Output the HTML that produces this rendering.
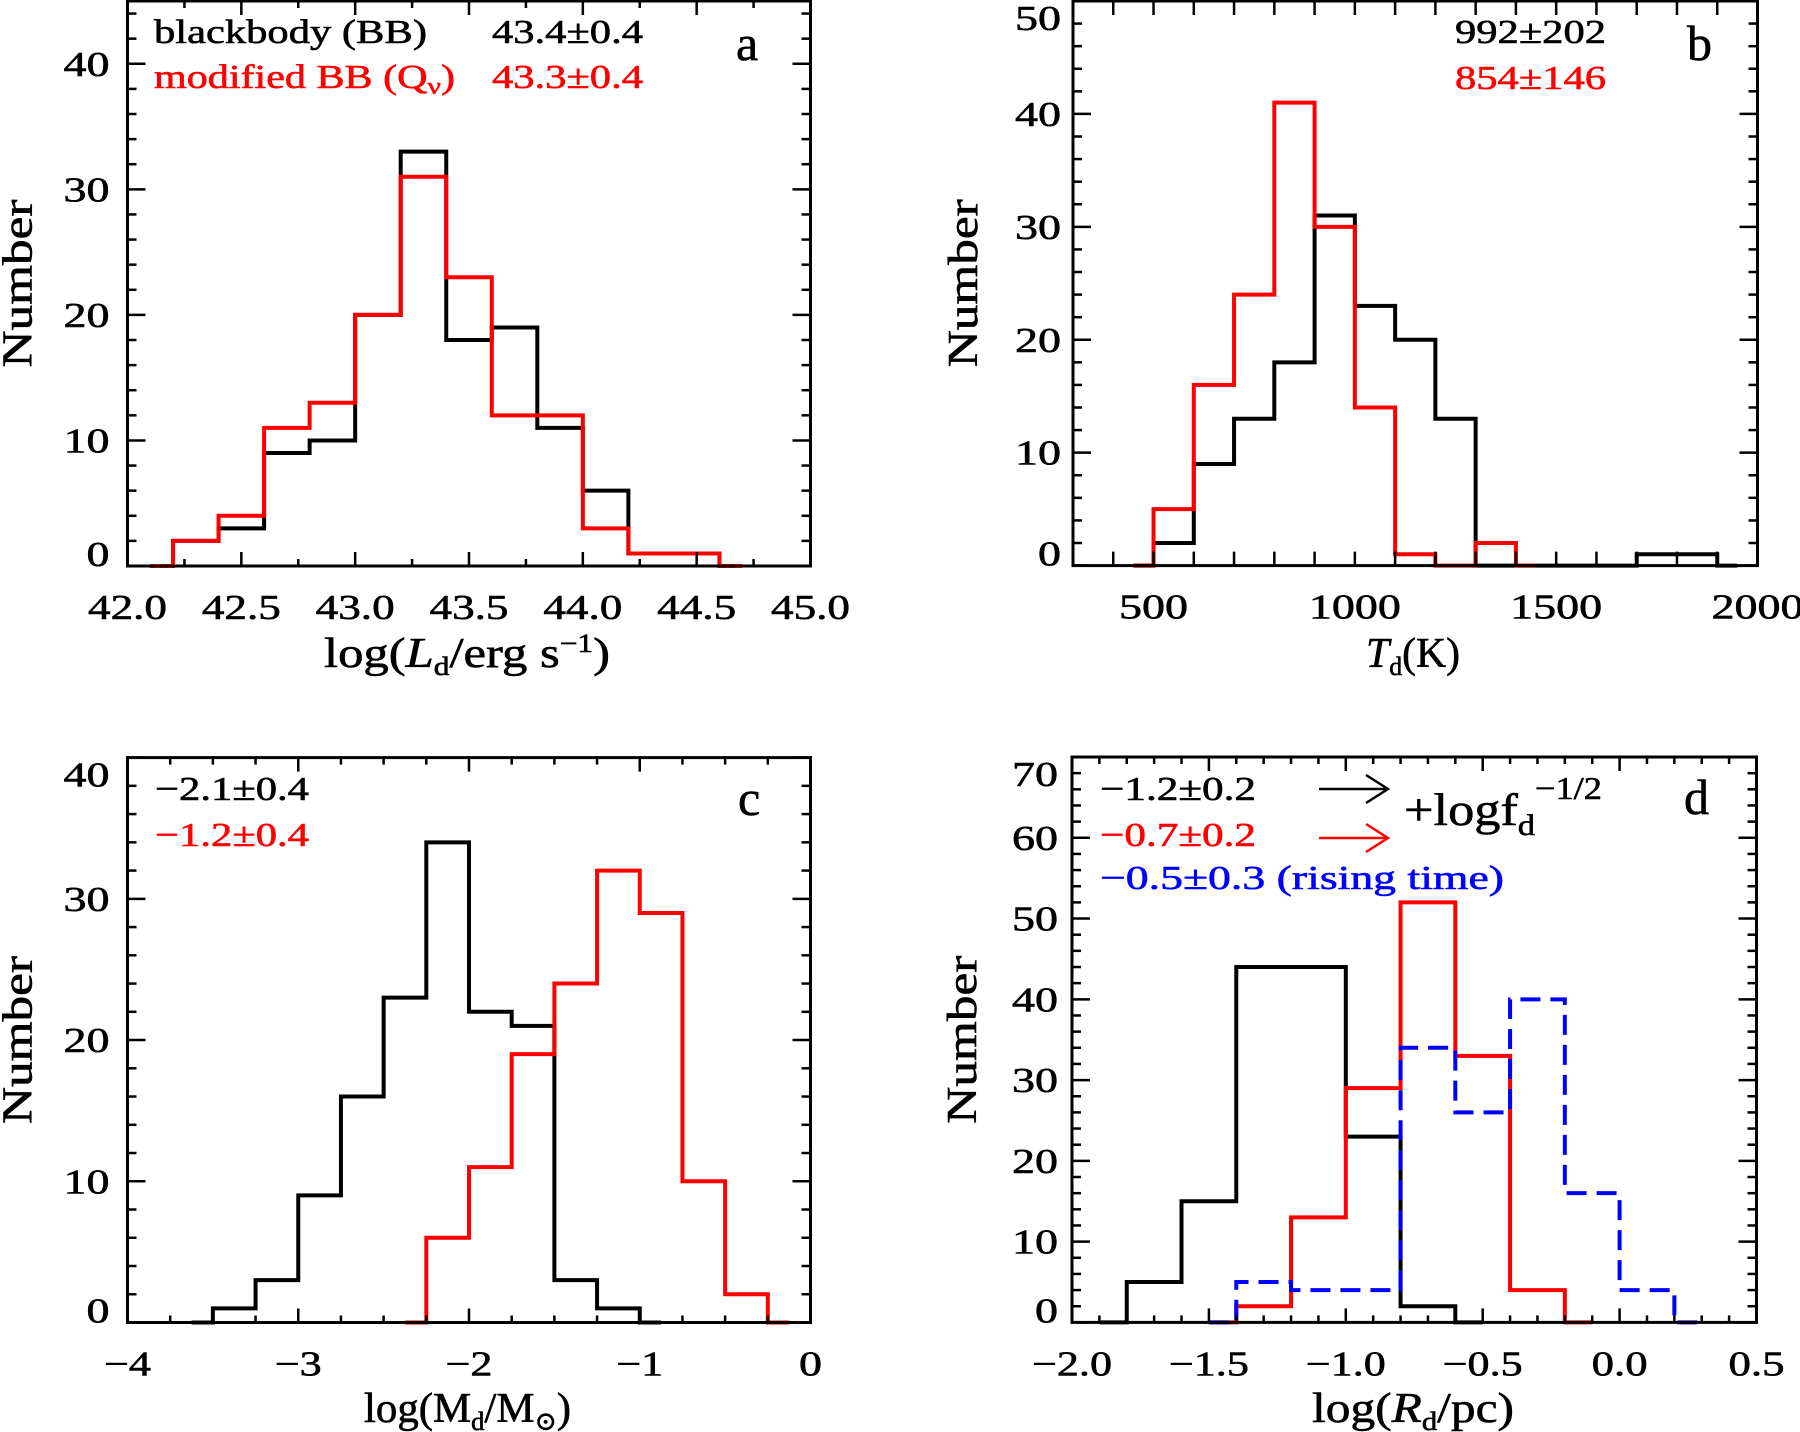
<!DOCTYPE html>
<html><head><meta charset="utf-8">
<style>
html,body{margin:0;padding:0;background:#fff;}
svg{display:block;font-family:"Liberation Serif","DejaVu Serif",serif;}
text{stroke-width:0.6;}
</style></head>
<body>
<svg id="fig" width="1800" height="1432" viewBox="0 0 1800 1432" xmlns="http://www.w3.org/2000/svg"></svg>
<script>
// ---- Panel a: log(Ld) ----
const aCenters = [42.1,42.3,42.5,42.7,42.9,43.1,43.3,43.5,43.7,43.9,44.1,44.3,44.5,44.7];
const aBlack   = [0,2,3,9,10,20,33,18,19,11,6,1,1,0];
const aRed     = [0,2,4,11,13,20,31,23,12,12,3,1,1,0];
const aXTicks  = ["42.0","42.5","43.0","43.5","44.0","44.5","45.0"];
const aYTicks  = ["0","10","20","30","40"];
// ---- Panel b: Td ----
const bCenters = [450,550,650,750,850,950,1050,1150,1250,1350,1450,1550,1650,1750,1850,1950];
const bBlack   = [0,2,9,13,18,31,23,20,13,0,0,0,0,1,1,0];
const bRedCenters = [450,550,650,750,850,950,1050,1150,1250,1350,1450];
const bRed     = [0,5,16,24,41,30,14,1,0,2,0];
const bXTicks  = ["500","1000","1500","2000"];
const bYTicks  = ["0","10","20","30","40","50"];
// ---- Panel c: log(Md) ----
const cBlackCenters = [-3.625,-3.375,-3.125,-2.875,-2.625,-2.375,-2.125,-1.875,-1.625,-1.375,-1.125,-0.875];
const cBlack   = [0,1,3,9,16,23,34,22,21,3,1,0];
const cRedCenters = [-2.375,-2.125,-1.875,-1.625,-1.375,-1.125,-0.875,-0.625,-0.375,-0.125];
const cRed     = [0,6,11,19,24,32,29,10,2,0];
const cXTicks  = ["\u22124","\u22123","\u22122","\u22121","0"];
const cYTicks  = ["0","10","20","30","40"];
// ---- Panel d: log(Rd) ----
const dBlackCenters = [-1.9,-1.7,-1.5,-1.3,-1.1,-0.9,-0.7,-0.5];
const dBlack   = [0,5,15,44,44,23,2,0];
const dRedCenters = [-1.5,-1.3,-1.1,-0.9,-0.7,-0.5,-0.3,-0.1];
const dRed     = [0,2,13,29,52,33,4,0];
const dBlueCenters = [-1.5,-1.3,-1.1,-0.9,-0.7,-0.5,-0.3,-0.1,0.1,0.3];
const dBlue    = [0,5,4,4,34,26,40,16,4,0];
const dXTicks  = ["\u22122.0","\u22121.5","\u22121.0","\u22120.5","0.0","0.5"];
const dYTicks  = ["0","10","20","30","40","50","60","70"];

const NS="http://www.w3.org/2000/svg";
const svg=document.getElementById('fig');
function mk(tag,attrs,parent){const e=document.createElementNS(NS,tag);for(const k in attrs)e.setAttribute(k,attrs[k]);(parent||svg).appendChild(e);return e;}
function labelWidth(s){let w=0;for(const ch of s){w+= (ch==='.')?10:(ch==='\u2212'?24:23);}return w;}

function panel(cfg){
  const g=mk('g',{});
  
  
  const X=v=>cfg.L+(v-cfg.x0)/(cfg.x1-cfg.x0)*(cfg.R-cfg.L);
  const Y=v=>cfg.B-(v-cfg.y0)/(cfg.y1-cfg.y0)*(cfg.B-cfg.T);
  cfg.series.forEach(s=>{
    const c=s.centers,n=s.counts,w=s.w;
    let d='M'+X(c[0])+','+Y(n[0])+' L'+X(c[0]+w/2)+','+Y(n[0]);
    for(let i=1;i<c.length;i++){
      d+=' L'+X(c[i]-w/2)+','+Y(n[i]);
      d+=' L'+(i===c.length-1?X(c[i]):X(c[i]+w/2))+','+Y(n[i]);
    }
    const p=mk('path',{d:d,fill:'none',stroke:s.color,'stroke-width':4,'stroke-linejoin':'miter'},g);
    if(s.dash)p.setAttribute('stroke-dasharray',s.dash);
    
    
  });
  const fr=mk('rect',{x:cfg.L,y:cfg.T,width:cfg.R-cfg.L,height:cfg.B-cfg.T,fill:'none',stroke:'#000','stroke-width':3},g);
  
  
  const tk=mk('g',{stroke:'#000','stroke-width':2.5},g);
  
  
  for(let v=cfg.x0;v<=cfg.x1+1e-9;v+=cfg.xminor){
    const isMaj=Math.abs(Math.round((v-cfg.x0)/cfg.xmajor)*cfg.xmajor-(v-cfg.x0))<1e-6;
    const len=isMaj?14:7,x=X(v);
    mk('line',{x1:x,y1:cfg.B,x2:x,y2:cfg.B-len},tk);
    mk('line',{x1:x,y1:cfg.T,x2:x,y2:cfg.T+len},tk);
  }
  for(let v=cfg.y0;v<=cfg.y1+1e-9;v+=cfg.yminor){
    const isMaj=Math.abs(Math.round((v-cfg.y0)/cfg.ymajor)*cfg.ymajor-(v-cfg.y0))<1e-6;
    const len=isMaj?18:9,y=Y(v);
    mk('line',{x1:cfg.L,y1:y,x2:cfg.L+len,y2:y},tk);
    mk('line',{x1:cfg.R,y1:y,x2:cfg.R-len,y2:y},tk);
  }
  cfg.xticks.forEach((s,i)=>{
    const v=cfg.x0+cfg.xlab0off+i*cfg.xmajorLab;
    const t=mk('text',{x:X(v),y:cfg.B+53,'text-anchor':'middle','font-size':35,stroke:'#000',textLength:labelWidth(s),lengthAdjust:'spacingAndGlyphs'},g);
    t.textContent=s;
    
    
  });
  cfg.yticks.forEach((s,i)=>{
    const v=cfg.y0+i*cfg.ymajor;
    let yb=(i===0?Y(v):Y(v)+12);
    if(yb<cfg.T+29)yb=cfg.T+29;
    const t=mk('text',{x:cfg.L-cfg.ygap,y:yb,'text-anchor':'end','font-size':35,stroke:'#000',textLength:labelWidth(s),lengthAdjust:'spacingAndGlyphs'},g);
    t.textContent=s;
    
    
  });
  const yt=mk('text',{x:0,y:0,'text-anchor':'middle','font-size':42,stroke:'#000',textLength:168,lengthAdjust:'spacingAndGlyphs',transform:'translate('+(cfg.L-96)+','+((cfg.T+cfg.B)/2)+') rotate(-90)'},g);
  yt.textContent='Number';
  
  
  return {g,X,Y};
}

const A=panel({name:'panel-a',L:127.5,R:810.5,T:1,B:566,x0:42,x1:45,y0:0,y1:45,xmajor:0.5,xminor:0.25,ymajor:10,yminor:2,xticks:aXTicks,yticks:aYTicks,xlab0off:0,xmajorLab:0.5,ygap:18,
  series:[{name:'bb-histogram',centers:aCenters,counts:aBlack,w:0.2,color:'#000'},{name:'modified-bb-histogram',centers:aCenters,counts:aRed,w:0.2,color:'#f00'}]});
const Bp=panel({name:'panel-b',L:1073,R:1757.5,T:1,B:565.6,x0:300,x1:2000,y0:0,y1:50,xmajor:100,xminor:100,ymajor:10,yminor:2,xticks:bXTicks,yticks:bYTicks,xlab0off:200,xmajorLab:500,ygap:12,
  series:[{name:'bb-histogram',centers:bCenters,counts:bBlack,w:100,color:'#000'},{name:'modified-bb-histogram',centers:bRedCenters,counts:bRed,w:100,color:'#f00'}]});
const Cp=panel({name:'panel-c',L:127.5,R:810.5,T:757.6,B:1322.5,x0:-4,x1:0,y0:0,y1:40,xmajor:1,xminor:0.25,ymajor:10,yminor:2,xticks:cXTicks,yticks:cYTicks,xlab0off:0,xmajorLab:1,ygap:18,
  series:[{name:'bb-histogram',centers:cBlackCenters,counts:cBlack,w:0.25,color:'#000'},{name:'modified-bb-histogram',centers:cRedCenters,counts:cRed,w:0.25,color:'#f00'}]});
const Dp=panel({name:'panel-d',L:1072,R:1756.5,T:757,B:1322.4,x0:-2,x1:0.5,y0:0,y1:70,xmajor:0.5,xminor:0.1,ymajor:10,yminor:2,xticks:dXTicks,yticks:dYTicks,xlab0off:0,xmajorLab:0.5,ygap:14,
  series:[{name:'bb-histogram',centers:dBlackCenters,counts:dBlack,w:0.2,color:'#000'},{name:'modified-bb-histogram',centers:dRedCenters,counts:dRed,w:0.2,color:'#f00'},{name:'rising-time-histogram',centers:dBlueCenters,counts:dBlue,w:0.2,color:'#00f',dash:'20 10'}]});

function txt(parent,name,x,y,size,color,html,len){
  const t=mk('text',{x:x,y:y,'font-size':size,fill:color,stroke:color},parent.g);
  if(len){t.setAttribute('textLength',len);t.setAttribute('lengthAdjust','spacingAndGlyphs');}
  t.innerHTML=html;
  
  
  return t;
}
txt(A,'legend-bb-label',154,43,34,'#000','blackbody (BB)',273);
txt(A,'legend-bb-value',492,43,34,'#000','43.4±0.4',151);
txt(A,'legend-mbb-label',154,88,34,'#f00','modified BB (Q<tspan font-size="24" dy="6">ν</tspan><tspan dy="-6">)</tspan>',301);
txt(A,'legend-mbb-value',492,88,34,'#f00','43.3±0.4',151);
txt(A,'panel-letter-a',736,60,50,'#000','a');
txt(A,'x-axis-title',324,667,42,'#000','log(<tspan font-style="italic">L</tspan><tspan font-size="26" dy="8">d</tspan><tspan dy="-8">/erg  s</tspan><tspan font-size="26" dy="-15">−1</tspan><tspan dy="15">)</tspan>',286);
txt(Bp,'legend-bb-value',1455,43,34,'#000','992±202',151);
txt(Bp,'legend-mbb-value',1455,89,34,'#f00','854±146',151);
txt(Bp,'panel-letter-b',1687,60,50,'#000','b');
txt(Bp,'x-axis-title',1366,667,42,'#000','<tspan font-style="italic">T</tspan><tspan font-size="26" dy="8">d</tspan><tspan dy="-8">(K)</tspan>',94);
txt(Cp,'legend-bb-value',155,800,34,'#000','−2.1±0.4',154);
txt(Cp,'legend-mbb-value',155,846,34,'#f00','−1.2±0.4',154);
txt(Cp,'panel-letter-c',738,815,50,'#000','c');
txt(Cp,'x-axis-title',364,1422,42,'#000','log(M<tspan font-size="26" dy="8">d</tspan><tspan dy="-8">/M</tspan><tspan font-size="26" dy="8">⊙</tspan><tspan dy="-8">)</tspan>',207);
txt(Dp,'legend-bb-value',1100,800,34,'#000','−1.2±0.2',156);
txt(Dp,'legend-mbb-value',1100,846,34,'#f00','−0.7±0.2',156);
txt(Dp,'legend-rising-time',1100,889,34,'#00f','−0.5±0.3 (rising time)',404);
txt(Dp,'panel-letter-d',1684,814,50,'#000','d');
txt(Dp,'correction-label',1404,825,46,'#000','+logf<tspan font-size="30" dy="10">d</tspan><tspan font-size="32" dy="-36">−1/2</tspan>',198);
txt(Dp,'x-axis-title',1312,1422,42,'#000','log(<tspan font-style="italic">R</tspan><tspan font-size="26" dy="8">d</tspan><tspan dy="-8">/pc)</tspan>',202);
[['arrow-black','#000',789],['arrow-red','#f00',838]].forEach(a=>{
  const p=mk('path',{d:'M1319,'+a[2]+' L1388,'+a[2]+' M1366,'+(a[2]-14)+' L1388,'+a[2]+' L1366,'+(a[2]+14),fill:'none',stroke:a[1],'stroke-width':2.5},Dp.g);
  
  
});
</script>
</body></html>
